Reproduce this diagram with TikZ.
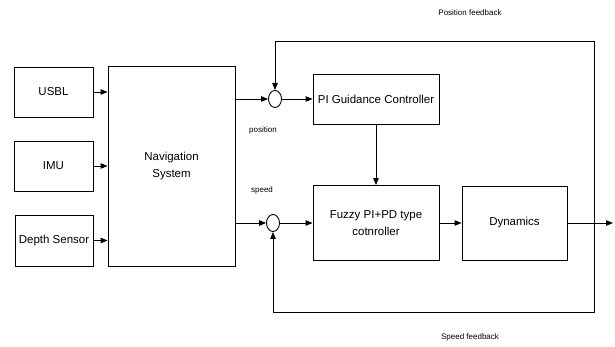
\documentclass[tikz,border=0pt]{standalone}
\usepackage{fontspec}
\setmainfont{Liberation Sans}
\usepackage{tikz}
\usetikzlibrary{arrows.meta}
\usetikzlibrary{positioning, shapes.geometric}

\begin{document}
\begin{tikzpicture}[x=1pt, y=-1pt, line width=0.9pt, >={Triangle[length=7pt,width=5.5pt]},
		every edge/.style = {draw, ->}]
			\useasboundingbox (0,0) rectangle (615,347);
			\begin{scope}[every node/.style={draw, rectangle, inner sep=0pt, align=center, font=\fontsize{11.5}{17}\selectfont}]
				\node[minimum width=79pt, minimum height=50pt] (U) at (53.5,92) {USBL};
				\node[minimum width=79pt, minimum height=50pt] (I) at (53.5,166) {IMU};
				\node[minimum width=78pt, minimum height=51pt] (D) at (54,240.5) {Depth Sensor};
				\node[minimum width=127pt, minimum height=200pt] (N) at (171.5,166) {Navigation\\System};
				\node[minimum width=126pt, minimum height=50pt] (Pi) at (376,99) {PI Guidance Controller};
				\node[minimum width=126pt, minimum height=75pt] (F) at (376,223) {Fuzzy PI+PD type\\cotnroller};
				\node[minimum width=105pt, minimum height=74pt] (Dy) at (514.5,223) {Dynamics};
			\end{scope}
			
			\begin{scope}[every node/.style={draw, ellipse, minimum width=13pt, minimum height=17pt, inner sep=0pt}]
				\node (P) at (275,99) {};
				\node (S) at (273,223) {};
			\end{scope}
			
			\begin{scope}[every node/.style={font=\fontsize{8}{10}\selectfont}]
				\node (posl) at (263,130) {position};
				\node (spdl) at (262,190) {speed};
				\node (posfb) at (470,13) {Position feedback};
				\node (spdfb) at (470,337) {Speed feedback};
			\end{scope}
			
			\coordinate (J) at (594,223);
			\coordinate (O) at (613,223);
			\coordinate (T) at (594,41);
			\coordinate (B) at (594,312);
			
			\draw (U) edge (U -| N.west)
			(I) edge (I -| N.west)
			(D) edge (D -| N.west)
			(N.east |- P) edge (P)
			(P) edge (Pi)
			(Pi) edge (F)
			(N.east |- S) edge (S)
			(S) edge (F)
			(F) edge (Dy)
			(Dy) edge (O);
			
			\draw[->] (J) -- (T) -| (P);
			\draw[->] (J) -- (B) -| (S);
		\end{tikzpicture}
\end{document}
